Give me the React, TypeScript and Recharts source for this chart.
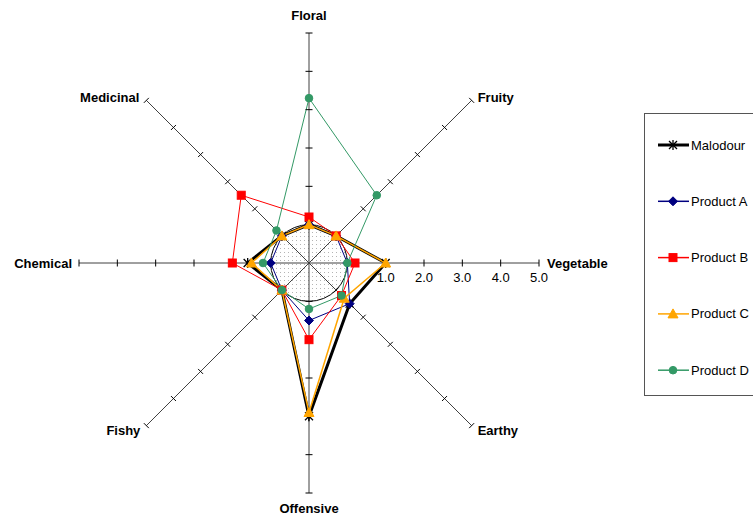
import React from 'react';
import { RadarChart, Radar, PolarAngleAxis, PolarRadiusAxis } from 'recharts';

// Odour profile attributes, clockwise from the top
const categories = ['Floral', 'Fruity', 'Vegetable', 'Earthy', 'Offensive', 'Fishy', 'Chemical', 'Medicinal'];

// Intensity scores per attribute
const malodour = [0, 0, 1.0, 0.5, 3.0, 0, 0.6, 0];
const productA = [0, 0, 0, 0.5, 0.5, 0, 0, 0];
const productB = [0.2, 0, 0.2, 0.2, 1.0, 0, 1.0, 1.5];
const productC = [0, 0, 1.0, 0.3, 2.9, 0, 0.5, 0];
const productD = [3.3, 1.5, 0, 0.2, 0.2, 0, 0.2, 0.2];

// Radial scale
const scaleMin = -1;
const scaleMax = 5;
const scaleTickCount = 7;
const labelledTicks = [1, 2, 3, 4, 5];

const FONT = '"Liberation Sans", Arial, Helvetica, sans-serif';
const W = 753;
const H = 516;
const CX = 309;
const CY = 263;
const R = 230;

type SeriesDef = { key: string; name: string; values: number[]; color: string; width: number; marker: string };

const series: SeriesDef[] = [
  { key: 'malodour', name: 'Malodour', values: malodour, color: '#000000', width: 3, marker: 'star' },
  { key: 'productA', name: 'Product A', values: productA, color: '#000080', width: 1, marker: 'diamond' },
  { key: 'productB', name: 'Product B', values: productB, color: '#FF0000', width: 1, marker: 'square' },
  { key: 'productC', name: 'Product C', values: productC, color: '#FFA500', width: 1.5, marker: 'triangle' },
  { key: 'productD', name: 'Product D', values: productD, color: '#339966', width: 1, marker: 'circle' },
];

const data = categories.map((axis, i) => {
  const row: Record<string, string | number> = { axis };
  series.forEach((s) => {
    row[s.key] = s.values[i];
  });
  return row;
});

function Marker({ kind, x, y, color }: { kind: string; x: number; y: number; color: string }) {
  switch (kind) {
    case 'star':
      return (
        <g stroke={color} strokeWidth={1.3}>
          <line x1={x - 4} y1={y - 4} x2={x + 4} y2={y + 4} />
          <line x1={x - 4} y1={y + 4} x2={x + 4} y2={y - 4} />
          <line x1={x} y1={y - 5} x2={x} y2={y + 5} />
        </g>
      );
    case 'diamond':
      return <polygon points={`${x},${y - 4.5} ${x + 4.5},${y} ${x},${y + 4.5} ${x - 4.5},${y}`} fill={color} stroke={color} />;
    case 'square':
      return <rect x={x - 4} y={y - 4} width={8} height={8} fill={color} stroke={color} />;
    case 'triangle':
      return <polygon points={`${x},${y - 5} ${x + 5},${y + 4} ${x - 5},${y + 4}`} fill={color} stroke={color} />;
    default:
      return <circle cx={x} cy={y} r={3.8} fill={color} stroke={color} />;
  }
}

// Angle of each attribute spoke (degrees, counter-clockwise from 3 o'clock)
const spokeAngles = categories.map((_, i) => 90 - i * 45);

const makeRadiusTick = (angle: number, withLabel: boolean) => (props: any) => {
  const { x, y, payload } = props;
  const v = Number(payload.value);
  if (v <= scaleMin) return <g />;
  const rad = (angle * Math.PI) / 180;
  const px = Math.sin(rad) * 3.5;
  const py = Math.cos(rad) * 3.5;
  return (
    <g>
      <line x1={x - px} y1={y - py} x2={x + px} y2={y + py} stroke="#000" strokeWidth={1} />
      {withLabel && labelledTicks.includes(v) ? (
        <text x={x} y={y + 19} textAnchor="middle" fontFamily={FONT} fontSize={13} fill="#000">
          {v.toFixed(1)}
        </text>
      ) : null}
    </g>
  );
};

const angleLabel = (props: any) => {
  const { payload } = props;
  const a = Number(payload.coordinate);
  const rad = (a * Math.PI) / 180;
  const ex = CX + R * Math.cos(rad);
  const ey = CY - R * Math.sin(rad);
  const norm = ((Math.round(a) % 360) + 360) % 360;
  let x = ex;
  let y = ey;
  let anchor: 'start' | 'middle' | 'end' = 'middle';
  if (norm === 90) {
    y = ey - 18;
  } else if (norm === 270) {
    y = ey + 15.5;
  } else if (norm === 0) {
    x = ex + 8;
    anchor = 'start';
  } else if (norm === 180) {
    x = ex - 7;
    anchor = 'end';
  } else if (norm === 45) {
    x = ex + 6;
    y = ey - 3;
    anchor = 'start';
  } else if (norm === 135) {
    x = ex - 7;
    y = ey - 3;
    anchor = 'end';
  } else if (norm === 315) {
    x = ex + 6;
    y = ey + 5;
    anchor = 'start';
  } else {
    x = ex - 6;
    y = ey + 5;
    anchor = 'end';
  }
  return (
    <text x={x} y={y} dy="0.35em" textAnchor={anchor} fontFamily={FONT} fontSize={13} fontWeight="bold" fill="#000">
      {payload.value}
    </text>
  );
};

function Legend() {
  return (
    <div
      style={{
        position: 'absolute',
        left: 644,
        top: 113,
        width: 130,
        height: 283,
        border: '1px solid #555',
        background: '#fff',
        boxSizing: 'border-box',
      }}
    >
      <svg width={130} height={283} style={{ position: 'absolute', left: 0, top: 0 }}>
        {series.map((s, i) => {
          const y = 31 + i * 56.3;
          return (
            <g key={s.key}>
              <line x1={13} y1={y} x2={44} y2={y} stroke={s.color} strokeWidth={s.width === 3 ? 3 : 1.5} />
              <Marker kind={s.marker} x={28} y={y} color={s.color} />
              <text x={46} y={y} dy="0.35em" fontFamily={FONT} fontSize={13} fill="#000">
                {s.name}
              </text>
            </g>
          );
        })}
      </svg>
    </div>
  );
}

export default function App() {
  const zeroRadius = (R * (0 - scaleMin)) / (scaleMax - scaleMin);
  return (
    <div style={{ position: 'absolute', left: 0, top: 0, width: W, height: H, background: '#fff', overflow: 'hidden' }}>
      {/* shaded region below the zero level */}
      <svg width={W} height={H} style={{ position: 'absolute', left: 0, top: 0 }}>
        <defs>
          <pattern id="dots" width={4} height={4} patternUnits="userSpaceOnUse">
            <rect x={0} y={0} width={1} height={1} fill="#b4b4b4" />
          </pattern>
        </defs>
        <circle cx={CX} cy={CY} r={zeroRadius} fill="url(#dots)" stroke="#000" strokeWidth={1} />
      </svg>
      <div style={{ position: 'absolute', left: 0, top: 0 }}>
        <RadarChart
          width={W}
          height={H}
          data={data}
          cx={CX}
          cy={CY}
          outerRadius={R}
          margin={{ top: 0, right: 0, bottom: 0, left: 0 }}
        >
          <PolarAngleAxis dataKey="axis" axisLine={false} tickLine={false} tick={angleLabel} />
          {spokeAngles.map((angle, i) => (
            <PolarRadiusAxis
              key={`spoke-${i}`}
              radiusAxisId={i}
              angle={angle}
              type="number"
              domain={[scaleMin, scaleMax]}
              allowDataOverflow
              tickCount={scaleTickCount}
              axisLine={{ stroke: '#404040', strokeWidth: 1 }}
              tick={makeRadiusTick(angle, angle === 0)}
            />
          ))}
          {series.map((s) => (
            <Radar
              key={s.key}
              name={s.name}
              dataKey={s.key}
              radiusAxisId={2}
              stroke={s.color}
              strokeWidth={s.width}
              fill="none"
              fillOpacity={0}
              isAnimationActive={false}
              dot={(p: any) => <Marker key={`${s.key}-${p.index}`} kind={s.marker} x={p.cx} y={p.cy} color={s.color} />}
            />
          ))}
        </RadarChart>
      </div>
      <Legend />
    </div>
  );
}
